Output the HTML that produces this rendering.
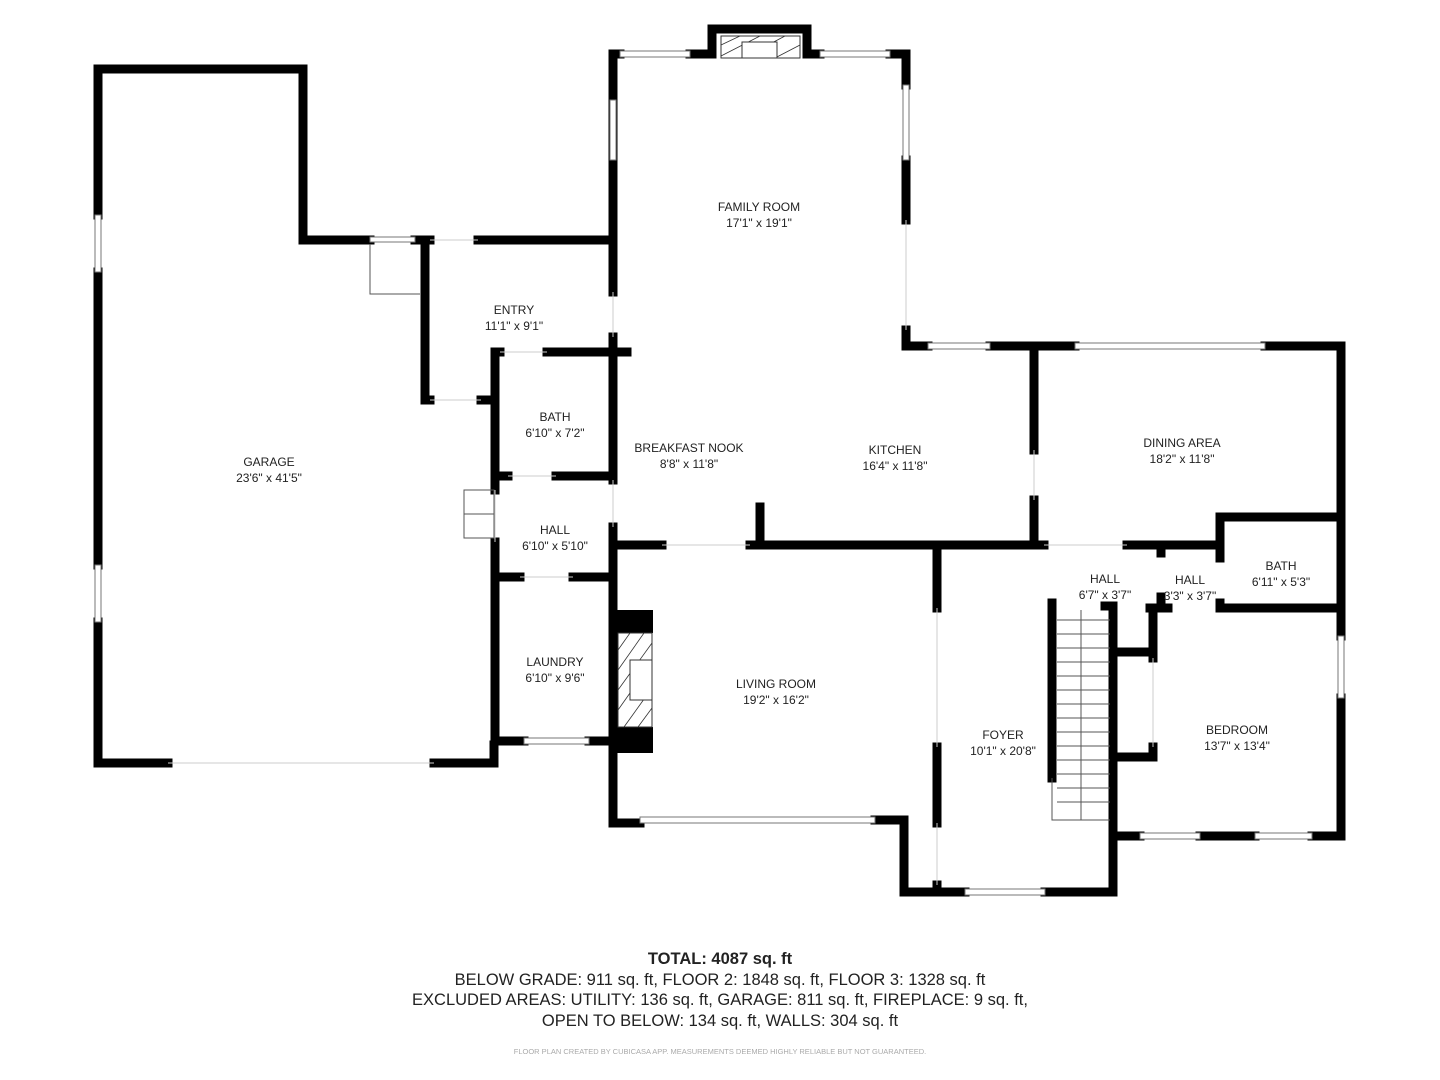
<!DOCTYPE html>
<html><head><meta charset="utf-8"><style>
html,body{margin:0;padding:0;background:#fff;}
svg{display:block}
text{font-family:"Liberation Sans",sans-serif;fill:#222}
.l{font-size:12px;text-anchor:middle}
</style></head><body>
<svg width="1440" height="1080" viewBox="0 0 1440 1080" xmlns="http://www.w3.org/2000/svg">
<g stroke="#000" stroke-width="9" fill="none" stroke-linecap="square">
<!-- garage -->
<path d="M98 215 V69 H303 V240 H370"/>
<path d="M98 272 V565"/>
<path d="M98 622 V763 H168"/>
<path d="M434 763 H494 V745"/>
<path d="M495 542 V740"/>
<path d="M495 352 V490"/>
<path d="M415 240 H430"/>
<path d="M478 240 H612"/>
<!-- entry -->
<path d="M425 244 V400 H430"/>
<path d="M481 400 H495"/>
<path d="M495 352 H500"/>
<path d="M547 352 H627"/>
<!-- bath/hall -->
<path d="M499 476 H508"/>
<path d="M556 476 H612"/>
<path d="M499 577 H520"/>
<path d="M573 577 H612"/>
<path d="M613 337 V480"/>
<path d="M613 527 V823 H640"/>
<path d="M613 545 H662"/>
<path d="M495 741 H524"/>
<path d="M589 741 H612"/>
<!-- family room -->
<path d="M613 292 V54 H620"/>
<path d="M690 54 H712 V29 H807 V54 H820"/>
<path d="M890 54 H906 V85"/>
<path d="M906 160 V220"/>
<path d="M906 330 V346 H928"/>
<path d="M990 346 H1075"/>
<path d="M1265 346 H1341 V636"/>
<path d="M1341 698 V836 H1312"/>
<path d="M1255 836 H1200"/>
<path d="M1140 836 H1113 V606 H1105"/>
<!-- kitchen -->
<path d="M1034 350 V450"/>
<path d="M1034 500 V545"/>
<path d="M750 545 H1044"/>
<path d="M760 507 V545"/>
<path d="M1127 545 H1220 V517 H1341"/>
<path d="M1220 517 V558"/>
<path d="M1220 603 V608 H1341"/>
<path d="M1161 545 V553"/>
<path d="M1161 597 V608"/>
<path d="M1150 608 H1168"/>
<path d="M1153 608 V658"/>
<path d="M1153 652 H1113"/>
<path d="M1153 747 V757 H1113"/>
<!-- living/foyer -->
<path d="M875 820 H904 V892 H965"/>
<path d="M1045 892 H1113 V836"/>
<path d="M937 550 V608"/>
<path d="M937 747 V823"/>
<path d="M937 885 V892"/>
<path d="M1052 603 V778"/>
</g>
<!-- fireplaces -->
<rect x="616" y="610" width="37" height="23" fill="#000"/>
<rect x="616" y="727" width="37" height="26" fill="#000"/>
<rect x="618" y="633" width="34" height="94" fill="#fff" stroke="#333" stroke-width="1"/>
<g stroke="#333" stroke-width="0.8">
<line x1="618" y1="650" x2="630" y2="633"/><line x1="618" y1="670" x2="644" y2="633"/><line x1="618" y1="690" x2="652" y2="643"/><line x1="618" y1="710" x2="630" y2="693"/><line x1="624" y1="727" x2="652" y2="688"/><line x1="638" y1="727" x2="652" y2="708"/>
</g>
<rect x="630" y="660" width="22" height="40" fill="#fff" stroke="#333" stroke-width="1"/>
<rect x="721" y="36" width="79" height="22" fill="#fff" stroke="#333" stroke-width="1"/>
<g stroke="#333" stroke-width="0.8"><line x1="721" y1="45" x2="740" y2="36"/><line x1="721" y1="56" x2="760" y2="36"/><line x1="775" y1="58" x2="800" y2="45"/><line x1="768" y1="45" x2="785" y2="36"/></g>
<rect x="742" y="42" width="35" height="16" fill="#fff" stroke="#333" stroke-width="1"/>
<!-- windows -->
<g fill="#fff" stroke="#777" stroke-width="1">
<rect x="95" y="215" width="6" height="57"/><rect x="95" y="565" width="6" height="57"/>
<rect x="620" y="51" width="70" height="6"/><rect x="820" y="51" width="70" height="6"/>
<rect x="610" y="100" width="6" height="60"/><rect x="903" y="85" width="6" height="75"/>
<rect x="928" y="343" width="62" height="6"/><rect x="1075" y="343" width="190" height="6"/>
<rect x="1338" y="636" width="6" height="62"/>
<rect x="1140" y="833" width="60" height="6"/><rect x="1255" y="833" width="57" height="6"/>
<rect x="640" y="817" width="235" height="6"/>
<rect x="965" y="889" width="80" height="6"/>
<rect x="524" y="738" width="65" height="6"/>
<rect x="370" y="237" width="45" height="5"/>
</g>
<g stroke="#ccc" stroke-width="1" fill="none">
<line x1="168" y1="763" x2="434" y2="763"/>
<line x1="500" y1="352" x2="547" y2="352"/><line x1="508" y1="476" x2="556" y2="476"/>
<line x1="520" y1="577" x2="573" y2="577"/>
<line x1="662" y1="545" x2="750" y2="545"/>
<line x1="430" y1="240" x2="478" y2="240"/><line x1="430" y1="400" x2="481" y2="400"/>
<line x1="906" y1="220" x2="906" y2="330"/><line x1="613" y1="292" x2="613" y2="337"/>
<line x1="613" y1="480" x2="613" y2="527"/><line x1="495" y1="490" x2="495" y2="542"/>
<line x1="937" y1="608" x2="937" y2="747"/><line x1="937" y1="823" x2="937" y2="885"/><line x1="1034" y1="450" x2="1034" y2="500"/>
<line x1="1044" y1="545" x2="1127" y2="545"/><line x1="1153" y1="658" x2="1153" y2="747"/>
</g>
<g stroke="#555" stroke-width="1" fill="none">
<path d="M370 244 V294 H420"/>
<rect x="464" y="490" width="30" height="48"/>
<line x1="464" y1="514" x2="494" y2="514"/>
<path d="M1052 778 V820 H1110"/>
<line x1="1081" y1="610" x2="1081" y2="820"/>
</g>
<g stroke="#555" stroke-width="1">
<line x1="1057" y1="620" x2="1110" y2="620"/><line x1="1057" y1="634" x2="1110" y2="634"/><line x1="1057" y1="648" x2="1110" y2="648"/><line x1="1057" y1="662" x2="1110" y2="662"/><line x1="1057" y1="676" x2="1110" y2="676"/><line x1="1057" y1="690" x2="1110" y2="690"/><line x1="1057" y1="704" x2="1110" y2="704"/><line x1="1057" y1="718" x2="1110" y2="718"/><line x1="1057" y1="732" x2="1110" y2="732"/><line x1="1057" y1="746" x2="1110" y2="746"/><line x1="1057" y1="760" x2="1110" y2="760"/><line x1="1057" y1="774" x2="1110" y2="774"/><line x1="1057" y1="788" x2="1110" y2="788"/><line x1="1057" y1="802" x2="1110" y2="802"/>
</g>
<!-- labels -->
<text class="l" x="759" y="211">FAMILY ROOM</text><text class="l" x="759" y="227">17'1" x 19'1"</text>
<text class="l" x="514" y="314">ENTRY</text><text class="l" x="514" y="330">11'1" x 9'1"</text>
<text class="l" x="555" y="421">BATH</text><text class="l" x="555" y="437">6'10" x 7'2"</text>
<text class="l" x="269" y="466">GARAGE</text><text class="l" x="269" y="482">23'6" x 41'5"</text>
<text class="l" x="689" y="452">BREAKFAST NOOK</text><text class="l" x="689" y="468">8'8" x 11'8"</text>
<text class="l" x="895" y="454">KITCHEN</text><text class="l" x="895" y="470">16'4" x 11'8"</text>
<text class="l" x="1182" y="447">DINING AREA</text><text class="l" x="1182" y="463">18'2" x 11'8"</text>
<text class="l" x="555" y="534">HALL</text><text class="l" x="555" y="550">6'10" x 5'10"</text>
<text class="l" x="1105" y="583">HALL</text><text class="l" x="1105" y="599">6'7" x 3'7"</text>
<text class="l" x="1190" y="584">HALL</text><text class="l" x="1190" y="600">3'3" x 3'7"</text>
<text class="l" x="1281" y="570">BATH</text><text class="l" x="1281" y="586">6'11" x 5'3"</text>
<text class="l" x="555" y="666">LAUNDRY</text><text class="l" x="555" y="682">6'10" x 9'6"</text>
<text class="l" x="776" y="688">LIVING ROOM</text><text class="l" x="776" y="704">19'2" x 16'2"</text>
<text class="l" x="1237" y="734">BEDROOM</text><text class="l" x="1237" y="750">13'7" x 13'4"</text>
<text class="l" x="1003" y="739">FOYER</text><text class="l" x="1003" y="755">10'1" x 20'8"</text>
<text x="720" y="964" text-anchor="middle" font-size="16.5" font-weight="bold">TOTAL: 4087 sq. ft</text>
<text x="720" y="985" text-anchor="middle" font-size="16.5">BELOW GRADE: 911 sq. ft, FLOOR 2: 1848 sq. ft, FLOOR 3: 1328 sq. ft</text>
<text x="720" y="1005" text-anchor="middle" font-size="16.5">EXCLUDED AREAS: UTILITY: 136 sq. ft, GARAGE: 811 sq. ft, FIREPLACE: 9 sq. ft,</text>
<text x="720" y="1026" text-anchor="middle" font-size="16.5">OPEN TO BELOW: 134 sq. ft, WALLS: 304 sq. ft</text>
<text x="720" y="1054" text-anchor="middle" font-size="7.5" style="fill:#aaa">FLOOR PLAN CREATED BY CUBICASA APP. MEASUREMENTS DEEMED HIGHLY RELIABLE BUT NOT GUARANTEED.</text>
</svg>
</body></html>
